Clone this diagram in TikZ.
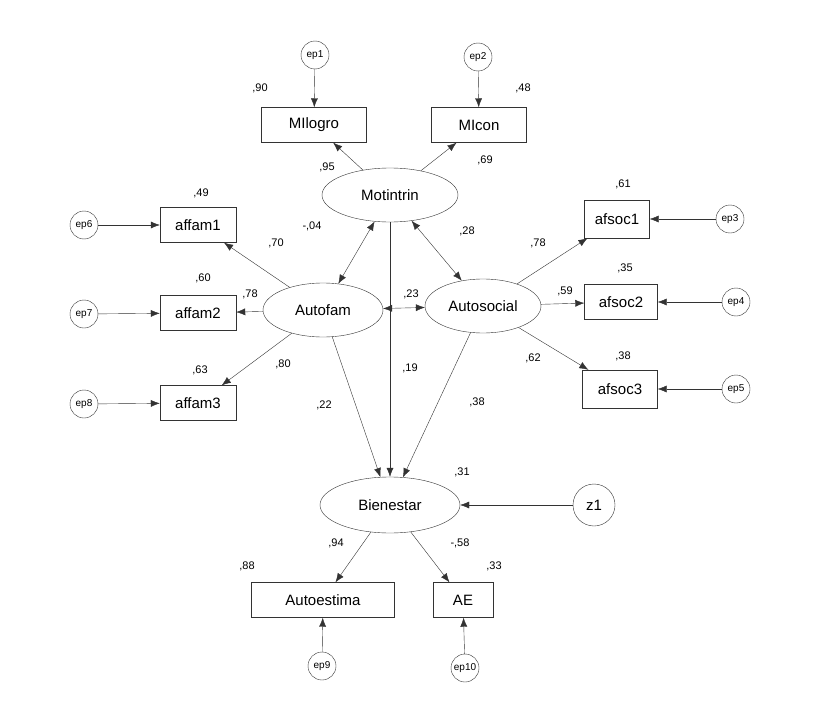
\documentclass[tikz,border=0pt]{standalone}
\usepackage{fontspec}
\setmainfont{Liberation Sans}
\usetikzlibrary{shapes.geometric,arrows.meta}
\begin{document}
\begin{tikzpicture}[x=1pt,y=-1pt,
 box/.style={draw=black!80,rectangle,minimum height=35pt,font=\fontsize{15}{15}\selectfont,inner sep=0pt},
 ell/.style={draw=black!80,ellipse,font=\fontsize{15}{15}\selectfont,inner sep=0pt},
 err/.style={draw=black!80,circle,minimum size=28pt,inner sep=0pt,font=\fontsize{10}{10}\selectfont},
 lab/.style={font=\fontsize{11}{11}\selectfont},
 ar/.style={-{Latex[length=9pt,width=7pt]},draw=black!80},
 bi/.style={{Latex[length=9pt,width=7pt]}-{Latex[length=9pt,width=7pt]},draw=black!80}]
\fill[white](0,0)rectangle(820,725);
\useasboundingbox(0,0)rectangle(820,725);
\node[box,minimum width=105pt](mil) at (314,125){MIlogro};
\node[box,minimum width=95pt](mic) at (479,125){MIcon};
\node[err](ep1) at (315,55){ep1};
\node[err](ep2) at (478,57){ep2};
\node[ell,minimum width=136pt,minimum height=54pt](mot) at (390,195){Motintrin};
\node[box,minimum width=76pt](a1) at (198,225){affam1};
\node[box,minimum width=76pt](a2) at (198,313){affam2};
\node[box,minimum width=76pt](a3) at (198,403){affam3};
\node[err](ep6) at (84,225){ep6};
\node[err](ep7) at (84,314){ep7};
\node[err](ep8) at (84,404){ep8};
\node[ell,minimum width=120pt,minimum height=54pt](af) at (323,310){Autofam};
\node[ell,minimum width=116pt,minimum height=54pt](as) at (483,306){Autosocial};
\node[box,minimum width=65pt,minimum height=38pt](s1) at (617,219){afsoc1};
\node[box,minimum width=73pt](s2) at (621,302){afsoc2};
\node[box,minimum width=75pt,minimum height=38pt](s3) at (620,389){afsoc3};
\node[err](ep3) at (730,219){ep3};
\node[err](ep4) at (736,302){ep4};
\node[err](ep5) at (736,389){ep5};
\node[ell,minimum width=140pt,minimum height=56pt](bi) at (390,505){Bienestar};
\node[err,minimum size=42pt,font=\fontsize{15}{15}\selectfont](z1) at (594,505){z1};
\node[box,minimum width=143pt](ae1) at (323,600){Autoestima};
\node[box,minimum width=60pt](ae) at (463,600){AE};
\node[err](ep9) at (322,666){ep9};
\node[err](ep10) at (465,668){ep10};
\draw[ar](ep1)--(mil);\draw[ar](ep2)--(mic);
\draw[ar](mot)--(mil);\draw[ar](mot)--(mic);
\draw[bi](mot)--(af);\draw[bi](mot)--(as);\draw[bi](af)--(as);
\draw[ar](af)--(a1);\draw[ar](af)--(a2);\draw[ar](af)--(a3);
\draw[ar](as)--(s1);\draw[ar](as)--(s2);\draw[ar](as)--(s3);
\draw[ar](ep6)--(a1);\draw[ar](ep7)--(a2);\draw[ar](ep8)--(a3);
\draw[ar](ep3)--(s1);\draw[ar](ep4)--(s2);\draw[ar](ep5)--(s3);
\draw[ar](mot)--(bi);\draw[ar](af)--(bi);\draw[ar](as)--(bi);\draw[ar](z1)--(bi);
\draw[ar](bi)--(ae1);\draw[ar](bi)--(ae);\draw[ar](ep9)--(ae1);\draw[ar](ep10)--(ae);
\node[lab](l1) at (260,88){,90};\node[lab](l2) at (523,88){,48};
\node[lab](l3) at (327,167){,95};\node[lab](l4) at (485,160){,69};
\node[lab](l5) at (201,193){,49};\node[lab](l6) at (623,184){,61};
\node[lab](l7) at (312,226){-,04};\node[lab](l8) at (467,231){,28};
\node[lab](l9) at (276,243){,70};\node[lab](l10) at (538,243){,78};
\node[lab](l11) at (203,278){,60};\node[lab](l12) at (625,268){,35};
\node[lab](l13) at (250,294){,78};\node[lab](l14) at (411,294){,23};
\node[lab](l15) at (565,291){,59};\node[lab](l16) at (283,364){,80};
\node[lab](l17) at (410,368){,19};\node[lab](l18) at (533,358){,62};
\node[lab](l19) at (200,370){,63};\node[lab](l20) at (623,356){,38};
\node[lab](l21) at (324,405){,22};\node[lab](l22) at (477,402){,38};
\node[lab](l23) at (462,472){,31};\node[lab](l24) at (336,543){,94};
\node[lab](l25) at (460,543){-,58};\node[lab](l26) at (247,566){,88};
\node[lab](l27) at (494,566){,33};
\end{tikzpicture}
\end{document}
